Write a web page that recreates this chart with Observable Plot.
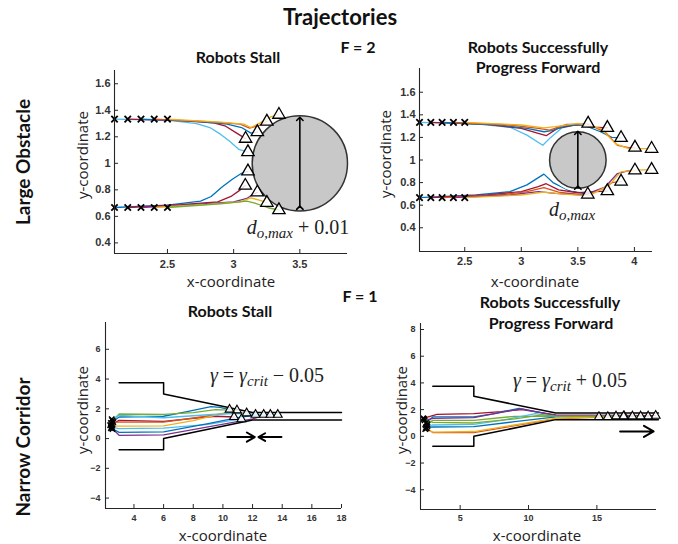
<!DOCTYPE html>
<html><head><meta charset="utf-8">
<script src="https://cdn.jsdelivr.net/npm/d3@7"></script>
<script src="https://cdn.jsdelivr.net/npm/@observablehq/plot@0.6"></script>
<style>
body{margin:0;background:#fff;}
#root{position:relative;width:678px;height:544px;overflow:hidden;background:#fff;}
.layer{position:absolute;left:0;top:0;}
.t{position:absolute;white-space:nowrap;transform:translate(-50%,-50%);color:#111;line-height:1;}
.m{position:absolute;white-space:nowrap;transform:translate(-50%,-50%);font-family:"Liberation Serif","DejaVu Serif",serif;color:#222;line-height:1;}
.m sub{font-size:0.75em;vertical-align:-0.25em;}
</style></head>
<body><div id="root"></div>
<script>
const C = {blue:"#0072BD", orange:"#D95319", yellow:"#EDB120", purple:"#7E2F8E", green:"#77AC30", cyan:"#4DBEEE", red:"#A2142F"};

// ---- Panel 1: large obstacle, robots stall ----
const p1Colors = ["cyan","red","blue","orange","yellow","blue","red","purple","yellow","green"];
const p1Paths = [
 [[2.1,1.333],[2.5,1.325],[2.72,1.30],[2.82,1.27],[2.9,1.22],[2.97,1.166],[3.04,1.105],[3.108,1.085]],
 [[2.2,1.333],[2.6,1.322],[2.85,1.305],[2.94,1.28],[3.02,1.23],[3.09,1.186]],
 [[2.3,1.333],[2.7,1.318],[2.95,1.295],[3.06,1.27],[3.13,1.228],[3.179,1.236]],
 [[2.4,1.333],[2.8,1.315],[3.05,1.295],[3.12,1.265],[3.19,1.285],[3.251,1.315]],
 [[2.5,1.333],[2.9,1.31],[3.08,1.295],[3.13,1.27],[3.2,1.305],[3.28,1.35],[3.342,1.367]],
 [[2.1,0.667],[2.5,0.685],[2.75,0.715],[2.83,0.75],[2.91,0.82],[2.99,0.88],[3.06,0.925],[3.108,0.94]],
 [[2.2,0.667],[2.6,0.688],[2.88,0.71],[2.98,0.75],[3.05,0.80],[3.088,0.832]],
 [[2.3,0.667],[2.7,0.69],[3.0,0.71],[3.1,0.735],[3.15,0.77],[3.179,0.781]],
 [[2.4,0.667],[2.8,0.69],[3.05,0.71],[3.13,0.74],[3.2,0.72],[3.251,0.703]],
 [[2.5,0.667],[2.9,0.695],[3.1,0.715],[3.16,0.70],[3.26,0.665],[3.342,0.648]]
];
const p1Obstacle = {x:3.5, y:1.0, radius:0.36};
const p1Span = [0.665, 1.335];
const p1XTicks = [2.5, 3, 3.5];
const p1YTicks = [0.4, 0.6, 0.8, 1, 1.2, 1.4, 1.6];

// ---- Panel 2: large obstacle, robots progress ----
const p2Colors = ["cyan","red","blue","orange","yellow","blue","red","orange","purple","yellow"];
const p2Paths = [
 [[2.1,1.333],[2.6,1.32],[2.9,1.29],[3.05,1.22],[3.19,1.13],[3.26,1.2],[3.36,1.285],[3.5,1.315],[3.591,1.323]],
 [[2.2,1.333],[2.7,1.315],[3.0,1.28],[3.15,1.235],[3.22,1.215],[3.32,1.28],[3.5,1.315],[3.65,1.29],[3.761,1.285]],
 [[2.3,1.333],[2.8,1.31],[3.05,1.28],[3.2,1.25],[3.27,1.26],[3.4,1.305],[3.55,1.31],[3.7,1.25],[3.8,1.2],[3.882,1.196]],
 [[2.4,1.333],[2.9,1.31],[3.15,1.28],[3.25,1.265],[3.4,1.315],[3.6,1.315],[3.75,1.24],[3.85,1.13],[3.95,1.11],[4.005,1.11]],
 [[2.5,1.333],[3.0,1.31],[3.2,1.285],[3.3,1.295],[3.5,1.325],[3.7,1.28],[3.84,1.14],[3.95,1.10],[4.152,1.10]],
 [[2.1,0.667],[2.6,0.69],[2.9,0.72],[3.05,0.78],[3.2,0.875],[3.28,0.8],[3.42,0.73],[3.588,0.695]],
 [[2.2,0.667],[2.7,0.69],[3.0,0.72],[3.15,0.765],[3.22,0.79],[3.33,0.735],[3.5,0.71],[3.65,0.72],[3.761,0.725]],
 [[2.3,0.667],[2.8,0.69],[3.05,0.72],[3.2,0.755],[3.33,0.715],[3.55,0.69],[3.72,0.745],[3.8,0.8],[3.882,0.81]],
 [[2.4,0.667],[2.9,0.69],[3.15,0.72],[3.3,0.705],[3.55,0.69],[3.74,0.76],[3.85,0.88],[3.95,0.905],[4.005,0.908]],
 [[2.5,0.667],[3.0,0.69],[3.2,0.715],[3.4,0.695],[3.6,0.685],[3.78,0.78],[3.88,0.895],[4.0,0.91],[4.152,0.914]]
];
const p2Obstacle = {x:3.5, y:1.0, radius:0.25};
const p2Span = [0.755, 1.24];
const p2XTicks = [2.5, 3, 3.5, 4];
const p2YTicks = [0.4, 0.6, 0.8, 1, 1.2, 1.4, 1.6];

// ---- Panel 3: narrow corridor, robots stall ----
const p3Colors = ["blue","green","red","cyan","orange","yellow","blue","purple","cyan"];
const p3Paths = [
 [[2.45,1.05],[3,1.45],[6,1.5],[7.5,1.8],[9.2,2.15],[9.8,2.1],[10.45,1.95]],
 [[2.55,1.2],[3,1.65],[6,1.62],[8,1.75],[9.5,1.95],[10.95,1.9]],
 [[2.4,0.9],[3,1.22],[6,1.15],[8,1.35],[9.5,1.5],[10.75,1.45]],
 [[2.5,0.75],[3,0.67],[6,0.7],[9,0.95],[10.5,1.2],[11.25,1.3]],
 [[2.6,1.1],[3,1.1],[6,1.1],[8.5,1.45],[10.2,1.7],[11.6,1.7]],
 [[2.5,0.85],[3,0.83],[6,0.85],[8,1.2],[10,1.7],[11,1.75],[12.2,1.6]],
 [[2.45,0.7],[3,0.42],[6,0.45],[9,1.0],[11,1.4],[12,1.55],[12.75,1.6]],
 [[2.55,0.65],[3,0.22],[6,0.25],[12,1.32],[12.6,1.5],[13.2,1.6]],
 [[2.5,1.3],[3,1.55],[6,1.4],[9,1.6],[11,1.7],[12.5,1.6],[13.7,1.6]]
];
const p3WallUpper = [[3,3.75],[6,3.75],[6,3],[12,1.75],[18,1.75]];
const p3WallLower = [[3,-0.75],[6,-0.75],[6,0],[12,1.25],[18,1.25]];
const p3Arrows = [[10.3,0.1,12.15,0.1],[13.95,0.1,12.4,0.1]];
const p3XTicks = [4, 6, 8, 10, 12, 14, 16, 18];
const p3YTicks = [-4, -2, 0, 2, 4, 6];

// ---- Panel 4: narrow corridor, robots progress ----
const p4Colors = ["red","blue","green","purple","cyan","blue","orange","yellow","green"];
const p4Paths = [
 [[2.3,1.35],[3.3,1.65],[6,1.7],[8,1.85],[9.5,2.0],[12,1.6],[19.3,1.55]],
 [[2.5,1.0],[3,1.45],[6,1.45],[7.5,1.7],[9.3,2.1],[10.5,1.85],[12,1.55],[18.75,1.5]],
 [[2.6,0.9],[3,1.2],[6,1.2],[9,1.5],[10.5,1.5],[12,1.5],[18.2,1.5]],
 [[2.4,1.2],[3,1.35],[6,1.4],[8,1.8],[9.5,2.05],[12,1.55],[17.6,1.5]],
 [[2.6,0.75],[3,0.85],[6,0.9],[8,1.2],[9.5,1.5],[10.5,1.7],[12,1.5],[17,1.5]],
 [[2.5,0.65],[3,0.7],[6,0.72],[9,1.1],[12,1.45],[16.4,1.5]],
 [[2.55,0.6],[3,0.28],[6,0.28],[12,1.3],[15.8,1.45]],
 [[2.45,0.55],[3,0.32],[6,0.36],[12,1.35],[15.15,1.45]],
 [[2.35,1.3],[3,1.05],[6,1.0],[9,1.3],[11,1.6],[12,1.5],[16.95,1.5]]
];
const p4WallUpper = [[3,3.75],[6,3.75],[6,3],[12,1.75],[19.5,1.75]];
const p4WallLower = [[3,-0.75],[6,-0.75],[6,0],[12,1.25],[19.5,1.25]];
const p4Arrows = [[16.7,0.37,19.15,0.37]];
const p4XTicks = [5, 10, 15];
const p4YTicks = [-4, -2, 0, 2, 4, 6, 8];

// ---- Text ----
const titles = [
 {t:"Trajectories", x:340, y:17, s:22},
 {t:"F = 2", x:358, y:47, s:16},
 {t:"Robots Stall", x:238, y:57, s:16},
 {t:"Robots Successfully", x:538, y:47, s:16},
 {t:"Progress Forward", x:538, y:67, s:16},
 {t:"F = 1", x:360, y:296, s:16},
 {t:"Robots Stall", x:230, y:311, s:16},
 {t:"Robots Successfully", x:550, y:302, s:16},
 {t:"Progress Forward", x:551, y:323, s:16},
 {t:"Large Obstacle", x:22, y:162, s:19, r:true},
 {t:"Narrow Corridor", x:22, y:447, s:19, r:true}
];
const axisLabels = [
 {t:"x-coordinate", x:231, y:281}, {t:"y-coordinate", x:82, y:155, r:true},
 {t:"x-coordinate", x:535, y:281}, {t:"y-coordinate", x:385, y:154, r:true},
 {t:"x-coordinate", x:223, y:535}, {t:"y-coordinate", x:82, y:410, r:true},
 {t:"x-coordinate", x:537, y:535}, {t:"y-coordinate", x:401, y:410, r:true}
];
const mathLabels = [
 {h:'<i>d</i><sub><i>o,max</i></sub> + 0.01', x:298, y:229, s:20},
 {h:'<i>d</i><sub><i>o,max</i></sub>', x:572, y:211, s:20},
 {h:'<i>γ</i> = <i>γ</i><sub><i>crit</i></sub> − 0.05', x:267, y:377, s:20},
 {h:'<i>γ</i> = <i>γ</i><sub><i>crit</i></sub> + 0.05', x:570, y:382, s:20}
];

const W = 678, H = 544;
function rows(paths, colors){
  return paths.flatMap((p,i)=>p.map(([x,y])=>({x,y,i,c:C[colors[i]]})));
}
function starts(paths){ return paths.map(p=>({x:p[0][0], y:p[0][1]})); }
function ends(paths){ return paths.map(p=>({x:p[p.length-1][0], y:p[p.length-1][1]})); }

function panel(cfg){
  const [ml,mr,mt,mb] = cfg.m;
  const ppu = (W-ml-mr)/(cfg.xd[1]-cfg.xd[0]);
  const fmt = d3.format("~g");
  const marks = cfg.marks(ppu);
  const x0 = cfg.xd[0], y0 = cfg.yd[0];
  return Plot.plot({
    width:W, height:H, marginLeft:ml, marginRight:mr, marginTop:mt, marginBottom:mb,
    x:{domain:cfg.xd}, y:{domain:cfg.yd}, color:{type:"identity"},
    style:{background:"transparent", fontFamily:"'Liberation Sans', Arial, sans-serif", overflow:"visible"},
    marks:[
      ...marks,
      Plot.ruleX([x0], {stroke:"#262626", strokeWidth:1.1}),
      Plot.ruleY([y0], {stroke:"#262626", strokeWidth:1.1}),
      Plot.ruleX(cfg.xt, {x:d=>d, y1:()=>y0, y2:()=>y0, insetTop:-4, stroke:"#262626"}),
      Plot.ruleY(cfg.yt, {y:d=>d, x1:()=>x0, x2:()=>x0, insetRight:-4, stroke:"#262626"}),
      Plot.axisX(cfg.xt, {tickSize:0, tickPadding:cfg.px, fontSize:cfg.fs, fontWeight:"bold", fill:"#333", tickFormat:fmt, label:null}),
      Plot.axisY(cfg.yt, {tickSize:0, tickPadding:cfg.py, fontSize:cfg.fs, fontWeight:"bold", fill:"#333", tickFormat:fmt, label:null})
    ]
  });
}

function obstacleMarks(paths, colors, obs, span, halo){
  return (ppu)=>[
    Plot.line(rows(paths, colors), {x:"x", y:"y", z:"i", stroke:"c", strokeWidth:1.3}),
    ...(halo ? [Plot.dot([obs], {x:"x", y:"y", r:obs.radius*ppu+3, fill:"white", stroke:"none"})] : []),
    Plot.dot([obs], {x:"x", y:"y", r:obs.radius*ppu, fill:"#c8c8c8", stroke:"#333", strokeWidth:1.5}),
    Plot.link([obs], {x1:"x", x2:"x", y1:()=>span[0], y2:()=>span[1], stroke:"black", strokeWidth:1.6, markerStart:"arrow", markerEnd:"arrow"}),
    Plot.dot(starts(paths), {x:"x", y:"y", symbol:"times", r:3, stroke:"black", strokeWidth:1.8}),
    Plot.dot(ends(paths), {x:"x", y:"y", symbol:"triangle", r:4.6, fill:"white", fillOpacity:0.85, stroke:"black", strokeWidth:1.3})
  ];
}
function corridorMarks(paths, colors, up, low, arrows){
  return ()=>[
    Plot.line(rows(paths, colors), {x:"x", y:"y", z:"i", stroke:"c", strokeWidth:1.3}),
    Plot.line(up, {x:d=>d[0], y:d=>d[1], stroke:"black", strokeWidth:1.5}),
    Plot.line(low, {x:d=>d[0], y:d=>d[1], stroke:"black", strokeWidth:1.5}),
    Plot.arrow(arrows, {x1:d=>d[0], y1:d=>d[1], x2:d=>d[2], y2:d=>d[3], stroke:"black", strokeWidth:2, headLength:9}),
    Plot.dot(starts(paths), {x:"x", y:"y", symbol:"times", r:2.6, stroke:"black", strokeWidth:1.6}),
    Plot.dot(ends(paths), {x:"x", y:"y", symbol:"triangle", r:3.3, fill:"white", fillOpacity:0.85, stroke:"black", strokeWidth:1.1})
  ];
}

const root = document.getElementById("root");
const panels = [
  panel({m:[114,331,70,291], xd:[2.1,3.86], yd:[0.32,1.70], xt:p1XTicks, yt:p1YTicks, fs:11, px:7, py:4,
    marks:obstacleMarks(p1Paths, p1Colors, p1Obstacle, p1Span, false)}),
  panel({m:[419,26,68,293], xd:[2.1,4.16], yd:[0.19,1.81], xt:p2XTicks, yt:p2YTicks, fs:11, px:6, py:4,
    marks:obstacleMarks(p2Paths, p2Colors, p2Obstacle, p2Span, true)}),
  panel({m:[105,337,322,36], xd:[2.08,18], yd:[-4.7,7.8], xt:p3XTicks, yt:p3YTicks, fs:9, px:6, py:5,
    marks:corridorMarks(p3Paths, p3Colors, p3WallUpper, p3WallLower, p3Arrows)}),
  panel({m:[420,22,323,35], xd:[2.1,19.36], yd:[-5.48,8.45], xt:p4XTicks, yt:p4YTicks, fs:9, px:5, py:5,
    marks:corridorMarks(p4Paths, p4Colors, p4WallUpper, p4WallLower, p4Arrows)})
];
for (const p of panels){ p.classList.add("layer"); root.appendChild(p); }

function addText(cls, html, x, y, css, rot){
  const d = document.createElement("div");
  d.className = cls; d.innerHTML = html;
  d.style.left = x+"px"; d.style.top = y+"px";
  Object.assign(d.style, css);
  if (rot) d.style.transform = "translate(-50%,-50%) rotate(-90deg)";
  root.appendChild(d);
}
for (const t of titles) addText("t", t.t, t.x, t.y, {fontFamily:"Lato, 'Open Sans', sans-serif", fontWeight:"700", fontSize:t.s+"px"}, t.r);
for (const t of axisLabels) addText("t", t.t, t.x, t.y, {fontFamily:"'Open Sans', sans-serif", fontWeight:"400", fontSize:"15px", color:"#222"}, t.r);
for (const t of mathLabels) addText("m", t.h, t.x, t.y, {fontSize:t.s+"px"}, false);
</script>
</body></html>
